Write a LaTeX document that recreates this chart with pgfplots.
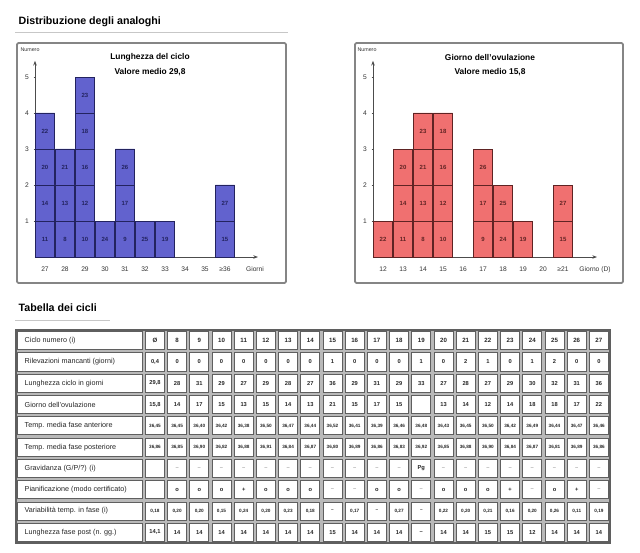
\documentclass[border=0pt]{standalone}
\usepackage{fontspec}
\setmainfont{Liberation Sans}
\usepackage{pgfplots}
\pgfplotsset{compat=1.18}
\usetikzlibrary{arrows.meta}

\definecolor{barblue}{RGB}{98,98,206}
\definecolor{edgeblue}{RGB}{35,35,95}
\definecolor{barred}{RGB}{240,112,112}
\definecolor{edgered}{RGB}{95,35,35}
\definecolor{tabbg}{RGB}{185,185,185}
\definecolor{tabline}{RGB}{95,95,95}

\newcommand{\fs}[1]{\fontsize{#1}{#1}\selectfont}

\pgfplotsset{
  histo/.style={
    anchor=origin, x=15pt, y=27pt,
    xmin=0, ymin=0, ymax=5.45,
    axis lines=left,
    axis line style={draw=black!70, line width=0.6pt, -{Stealth[length=3.5pt,width=2.6pt]}},
    ybar,
    ytick={1,2,3,4,5},
    major tick length=2pt,
    ytick style={black!70, line width=0.4pt},
    xtick style={draw=none},
    /pgf/number format/assume math mode=true,
    tick label style={font=\fs{5pt}, text=black!80},
    xticklabel style={yshift=-2pt},
    nodes near coords, point meta=explicit symbolic,
    every node near coord/.append style={font=\bfseries\fs{4.5pt}, anchor=center, yshift=-13.5pt},
    clip=false,
  },
  bluebox/.style={bar shift=0pt, bar width=14.6pt, fill=barblue, draw=edgeblue, line width=0.55pt},
  redbox/.style={bar shift=0pt, bar width=14.6pt, fill=barred, draw=edgered, line width=0.55pt},
}

% one row of the table: [font size]{row}{label}{mean}{20 values}
\newcommand{\trow}[5][4.3pt]{%
  \pgfmathsetmacro\yy{330+21.3*(#2+0.5)}%
  \node[anchor=west, font=\fs{5.4pt}, text=black!85] at (20,\yy) {#3};%
  \node[font=\bfseries\fs{#1}, text=black!85] at (155,\yy) {#4};%
  \foreach \v [count=\c from 0] in {#5}{%
    \node[font=\bfseries\fs{#1}, text=black!85] at ({166+22.2*(\c+0.5)},\yy) {\v};}%
}

\begin{document}
\begin{tikzpicture}
\begin{scope}[x=0.75pt,y=-0.75pt]
\path[use as bounding box] (0,0) rectangle (640,553);
\tikzset{frame/.style={draw=black!48, line width=1.4pt, rounded corners=1pt, fill=white}}

\node[anchor=west, font=\bfseries\fs{8pt}] at (14,22) {Distribuzione degli analoghi};
\draw[black!22, line width=0.6pt] (15,32) -- (288,32);
\draw[frame] (17,43) rectangle (286,283);
\draw[frame] (355,43) rectangle (623,283);
\node[font=\bfseries\fs{6.3pt}] at (150,57) {Lunghezza del ciclo};
\node[font=\bfseries\fs{6.3pt}] at (150,72) {Valore medio 29,8};
\node[font=\bfseries\fs{6.3pt}] at (490,57) {Giorno dell'ovulazione};
\node[font=\bfseries\fs{6.3pt}] at (490,72) {Valore medio 15,8};
\node[font=\fs{4pt}, text=black!80] at (30,50) {Numero};
\node[font=\fs{4pt}, text=black!80] at (367,50) {Numero};

% table
\node[anchor=west, font=\bfseries\fs{8pt}] at (14,308) {Tabella dei cicli};
\draw[black!22, line width=0.6pt] (15,320) -- (110,320);
\fill[tabbg] (16,330) rectangle (610,543);
\foreach \r in {0,...,9}{
  \pgfmathsetmacro\ya{330+21.3*\r+1.6}
  \pgfmathsetmacro\yb{330+21.3*(\r+1)-1.6}
  \draw[fill=white, draw=tabline, line width=0.65pt] (17.6,\ya) rectangle (142.4,\yb);
  \draw[fill=white, draw=tabline, line width=0.65pt] (145.6,\ya) rectangle (164.4,\yb);
  \foreach \c in {0,...,19}{
    \pgfmathsetmacro\xa{166+22.2*\c+1.6}
    \pgfmathsetmacro\xb{166+22.2*(\c+1)-1.6}
    \draw[fill=white, draw=tabline, line width=0.65pt] (\xa,\ya) rectangle (\xb,\yb);
  }
}
\draw[tabline, line width=1pt] (16,330) rectangle (610,543);

\trow[4.6pt]{0}{Ciclo numero (i)}{Ø}{8,...,27}
\trow{1}{Rilevazioni mancanti (giorni)}{0,4}{0,0,0,0,0,0,0,1,0,0,0,1,0,2,1,0,1,2,0,0}
\trow{2}{Lunghezza ciclo in giorni}{29,8}{28,31,29,27,29,28,27,36,29,31,29,33,27,28,27,29,30,32,31,36}
\trow{3}{Giorno dell'ovulazione}{15,8}{14,17,15,13,15,14,13,21,15,17,15,,13,14,12,14,18,18,17,22}
\trow[3.5pt]{4}{Temp. media fase anteriore}{36,45}{{36,45},{36,40},{36,42},{36,38},{36,50},{36,47},{36,44},{36,52},{36,41},{36,39},{36,46},{36,48},{36,43},{36,45},{36,50},{36,42},{36,49},{36,44},{36,47},{36,46}}
\trow[3.5pt]{5}{Temp. media fase posteriore}{36,86}{{36,85},{36,90},{36,82},{36,88},{36,91},{36,84},{36,87},{36,80},{36,89},{36,86},{36,83},{36,92},{36,85},{36,88},{36,90},{36,84},{36,87},{36,81},{36,89},{36,86}}
\trow{6}{Gravidanza (G/P/?) (i)}{}{\textcolor{black!35}{–},\textcolor{black!35}{–},\textcolor{black!35}{–},\textcolor{black!35}{–},\textcolor{black!35}{–},\textcolor{black!35}{–},\textcolor{black!35}{–},\textcolor{black!35}{–},\textcolor{black!35}{–},\textcolor{black!35}{–},\textcolor{black!35}{–},Pg,\textcolor{black!35}{–},\textcolor{black!35}{–},\textcolor{black!35}{–},\textcolor{black!35}{–},\textcolor{black!35}{–},\textcolor{black!35}{–},\textcolor{black!35}{–},\textcolor{black!35}{–}}
\trow{7}{Pianificazione (modo certificato)}{}{o,o,o,+,o,o,o,\textcolor{black!35}{–},\textcolor{black!35}{–},o,o,\textcolor{black!35}{–},o,o,o,+,\textcolor{black!35}{–},o,+,\textcolor{black!35}{–}}
\trow[3.5pt]{8}{Variabilità temp. in fase (i)}{0,18}{{0,20},{0,20},{0,15},{0,24},{0,20},{0,23},{0,18},–,{0,17},–,{0,27},–,{0,22},{0,20},{0,21},{0,16},{0,20},{0,26},{0,11},{0,19}}
\trow{9}{Lunghezza fase post (n. gg.)}{14,1}{14,14,14,14,14,14,14,15,14,14,14,–,14,14,15,15,12,14,14,14}
\end{scope}

% left histogram: cycle length
\begin{axis}[histo, at={(26.25pt,-192.75pt)}, xmax=11.15,
  xtick={0.5,1.5,2.5,3.5,4.5,5.5,6.5,7.5,8.5,9.5,11},
  xticklabels={27,28,29,30,31,32,33,34,35,≥36,Giorni},
  every node near coord/.append style={text=edgeblue}]
\addplot[bluebox] coordinates {(2.5,5) [23]};
\addplot[bluebox] coordinates {(0.5,4) [22] (2.5,4) [18]};
\addplot[bluebox] coordinates {(0.5,3) [20] (1.5,3) [21] (2.5,3) [16] (4.5,3) [26]};
\addplot[bluebox] coordinates {(0.5,2) [14] (1.5,2) [13] (2.5,2) [12] (4.5,2) [17] (9.5,2) [27]};
\addplot[bluebox] coordinates {(0.5,1) [11] (1.5,1) [8] (2.5,1) [10] (3.5,1) [24] (4.5,1) [9] (5.5,1) [25] (6.5,1) [19] (9.5,1) [15]};
\end{axis}

% right histogram: ovulation day
\begin{axis}[histo, at={(279.75pt,-192.75pt)}, xmax=11.2,
  xtick={0.5,1.5,2.5,3.5,4.5,5.5,6.5,7.5,8.5,9.5,11.1},
  xticklabels={12,13,14,15,16,17,18,19,20,≥21,Giorno (D)},
  every node near coord/.append style={text=edgered}]
\addplot[redbox] coordinates {(2.5,4) [23] (3.5,4) [18]};
\addplot[redbox] coordinates {(1.5,3) [20] (2.5,3) [21] (3.5,3) [16] (5.5,3) [26]};
\addplot[redbox] coordinates {(1.5,2) [14] (2.5,2) [13] (3.5,2) [12] (5.5,2) [17] (6.5,2) [25] (9.5,2) [27]};
\addplot[redbox] coordinates {(0.5,1) [22] (1.5,1) [11] (2.5,1) [8] (3.5,1) [10] (5.5,1) [9] (6.5,1) [24] (7.5,1) [19] (9.5,1) [15]};
\end{axis}
\end{tikzpicture}
\end{document}
